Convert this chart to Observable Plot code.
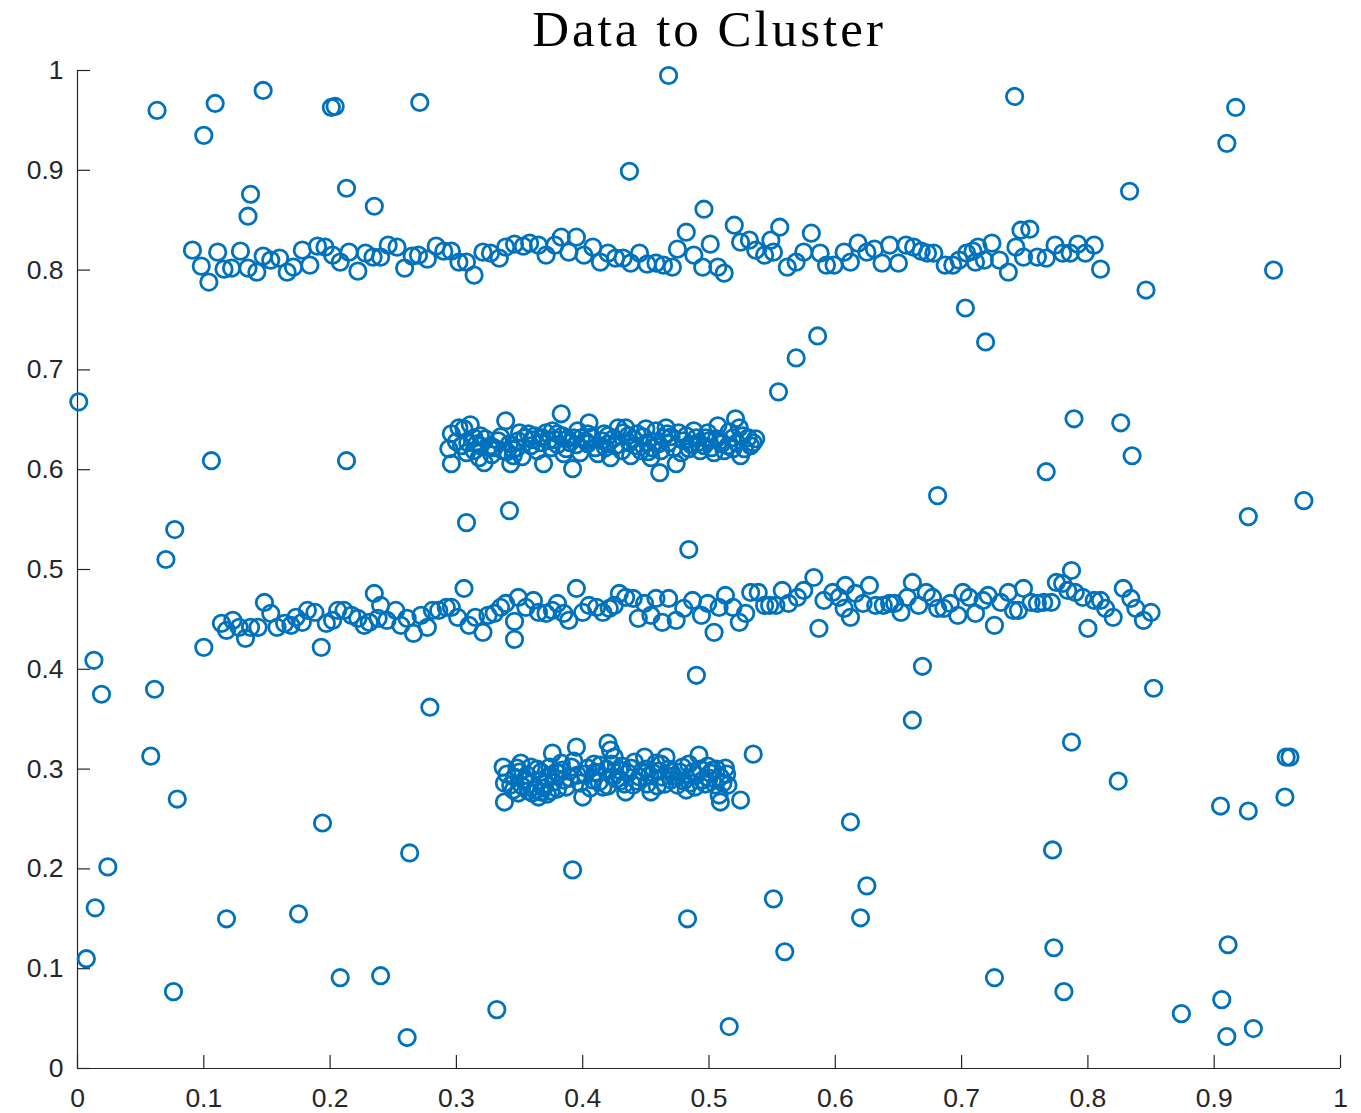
<!DOCTYPE html>
<html>
<head>
<meta charset="utf-8">
<script src="https://cdn.jsdelivr.net/npm/d3@7"></script>
<script src="https://cdn.jsdelivr.net/npm/@observablehq/plot@0.6"></script>
<style>
  html, body { margin: 0; padding: 0; background: #fff; }
  .chart-title text { letter-spacing: 3px; }
</style>
</head>
<body>
<div id="chart"></div>
<script>
// Scatter of points to be clustered: two long horizontal bands,
// two short dense blobs, and uniform background noise.

const titleText = "Data to Cluster";
const xTicks = [0, 0.1, 0.2, 0.3, 0.4, 0.5, 0.6, 0.7, 0.8, 0.9, 1];
const yTicks = [0, 0.1, 0.2, 0.3, 0.4, 0.5, 0.6, 0.7, 0.8, 0.9, 1];

// Long band near y = 0.81
const bandHigh = [
  [0.091,0.820],[0.098,0.804],[0.104,0.788],[0.111,0.818],[0.116,0.801],[0.122,0.802],[0.129,0.819],[0.135,0.802],
  [0.142,0.798],[0.147,0.814],[0.153,0.810],[0.160,0.812],[0.166,0.798],[0.171,0.803],[0.178,0.820],[0.184,0.805],
  [0.190,0.824],[0.196,0.823],[0.202,0.815],[0.208,0.808],[0.215,0.818],[0.222,0.799],[0.228,0.817],[0.234,0.813],
  [0.240,0.813],[0.246,0.825],[0.253,0.823],[0.259,0.802],[0.265,0.814],[0.270,0.815],[0.277,0.811],[0.284,0.824],
  [0.290,0.819],[0.296,0.819],[0.302,0.808],[0.308,0.808],[0.314,0.795],[0.321,0.818],[0.327,0.817],[0.334,0.812],
  [0.339,0.823],[0.346,0.826],[0.353,0.824],[0.358,0.827],[0.365,0.825],[0.371,0.815],[0.378,0.825],[0.383,0.833],
  [0.389,0.818],[0.395,0.833],[0.401,0.815],[0.408,0.823],[0.414,0.808],[0.420,0.817],[0.426,0.812],[0.432,0.812],
  [0.438,0.807],[0.445,0.817],[0.451,0.806],[0.458,0.807],[0.464,0.805],[0.471,0.803],[0.475,0.821],[0.482,0.838],
  [0.488,0.815],[0.495,0.803],[0.501,0.826],[0.507,0.803],[0.512,0.797],[0.520,0.845],[0.525,0.828],[0.532,0.830],
  [0.537,0.820],[0.544,0.815],[0.549,0.830],[0.551,0.818],[0.556,0.843],[0.562,0.803],[0.569,0.808],[0.575,0.818],
  [0.581,0.837],[0.588,0.817],[0.593,0.805],[0.599,0.805],[0.607,0.818],[0.612,0.808],[0.618,0.827],[0.625,0.818],
  [0.631,0.821],[0.637,0.807],[0.643,0.825],[0.650,0.807],[0.656,0.825],[0.662,0.823],[0.668,0.819],[0.673,0.817],
  [0.678,0.817],[0.687,0.805],[0.693,0.805],[0.698,0.810],[0.704,0.817],[0.709,0.819],[0.713,0.823],[0.711,0.808],
  [0.718,0.810],[0.724,0.827],[0.730,0.810],[0.737,0.798],[0.743,0.823],[0.747,0.840],[0.754,0.841],[0.749,0.813],
  [0.760,0.813],[0.767,0.812],[0.774,0.825],[0.780,0.817],[0.786,0.817],[0.792,0.826],[0.798,0.817],[0.805,0.825],
  [0.810,0.801]
];

// Dense blob near y = 0.63
const blobHigh = [
  [0.296,0.636],[0.294,0.621],[0.296,0.606],[0.302,0.642],[0.306,0.641],[0.311,0.645],[0.304,0.624],[0.309,0.627],
  [0.314,0.632],[0.319,0.624],[0.322,0.607],[0.318,0.612],[0.327,0.624],[0.333,0.629],[0.339,0.649],[0.337,0.619],
  [0.343,0.606],[0.345,0.614],[0.349,0.629],[0.354,0.632],[0.359,0.624],[0.362,0.634],[0.367,0.627],[0.369,0.606],
  [0.373,0.629],[0.376,0.639],[0.383,0.656],[0.380,0.636],[0.385,0.616],[0.392,0.601],[0.388,0.631],[0.393,0.632],
  [0.399,0.632],[0.404,0.636],[0.405,0.647],[0.404,0.626],[0.410,0.622],[0.417,0.636],[0.422,0.612],[0.420,0.626],
  [0.426,0.624],[0.432,0.637],[0.434,0.642],[0.437,0.627],[0.438,0.614],[0.443,0.636],[0.446,0.619],[0.450,0.641],
  [0.451,0.627],[0.454,0.612],[0.458,0.639],[0.460,0.626],[0.461,0.597],[0.464,0.632],[0.468,0.627],[0.474,0.606],
  [0.476,0.637],[0.480,0.629],[0.484,0.621],[0.488,0.639],[0.491,0.627],[0.496,0.624],[0.500,0.629],[0.504,0.617],
  [0.507,0.644],[0.509,0.629],[0.515,0.624],[0.519,0.632],[0.521,0.651],[0.524,0.642],[0.525,0.614],[0.528,0.621],
  [0.531,0.632],[0.535,0.627],[0.537,0.631],[0.519,0.621],[0.499,0.637],[0.466,0.642],[0.428,0.642],[0.396,0.639],
  [0.371,0.637],[0.350,0.637],[0.319,0.634],[0.314,0.619],[0.342,0.626],[0.330,0.622],[0.360,0.630],[0.390,0.627],
  [0.415,0.629],[0.440,0.631],[0.470,0.633],[0.490,0.632],[0.510,0.626],[0.380,0.625],[0.345,0.620],[0.420,0.634],
  [0.455,0.622],[0.300,0.628],[0.308,0.617],[0.316,0.626],[0.323,0.631],[0.328,0.615],[0.335,0.633],[0.340,0.618],
  [0.348,0.622],[0.352,0.613],[0.357,0.636],[0.364,0.619],[0.368,0.632],[0.375,0.622],[0.378,0.630],[0.384,0.634],
  [0.387,0.621],[0.395,0.625],[0.398,0.617],[0.402,0.629],[0.407,0.633],[0.412,0.616],[0.418,0.622],[0.424,0.631],
  [0.431,0.619],[0.436,0.634],[0.442,0.624],[0.448,0.633],[0.452,0.618],[0.457,0.628],[0.462,0.619],[0.467,0.636],
  [0.472,0.622],[0.478,0.617],[0.482,0.634],[0.486,0.625],[0.493,0.619],[0.497,0.632],[0.502,0.622],[0.506,0.631],
  [0.512,0.619],[0.516,0.638],[0.522,0.627],[0.527,0.634],[0.533,0.624]
];

// Long band near y = 0.46
const bandLow = [
  [0.100,0.422],[0.114,0.446],[0.118,0.439],[0.123,0.449],[0.128,0.442],[0.133,0.431],[0.137,0.442],[0.143,0.442],
  [0.148,0.467],[0.153,0.456],[0.158,0.442],[0.164,0.446],[0.169,0.444],[0.173,0.452],[0.178,0.447],[0.182,0.459],
  [0.188,0.457],[0.193,0.422],[0.197,0.446],[0.202,0.449],[0.206,0.459],[0.211,0.459],[0.217,0.454],[0.222,0.451],
  [0.227,0.444],[0.231,0.447],[0.235,0.476],[0.240,0.464],[0.238,0.451],[0.245,0.449],[0.252,0.459],[0.256,0.444],
  [0.261,0.451],[0.266,0.436],[0.272,0.454],[0.277,0.442],[0.281,0.459],[0.286,0.459],[0.292,0.462],[0.296,0.462],
  [0.301,0.452],[0.306,0.481],[0.310,0.444],[0.315,0.452],[0.321,0.437],[0.325,0.454],[0.330,0.456],[0.335,0.462],
  [0.339,0.466],[0.346,0.448],[0.346,0.430],[0.349,0.472],[0.355,0.462],[0.361,0.469],[0.365,0.457],[0.371,0.456],
  [0.376,0.459],[0.380,0.466],[0.385,0.456],[0.389,0.449],[0.395,0.481],[0.400,0.457],[0.405,0.464],[0.411,0.462],
  [0.416,0.457],[0.421,0.461],[0.425,0.464],[0.429,0.476],[0.434,0.472],[0.440,0.471],[0.444,0.451],[0.449,0.466],
  [0.454,0.454],[0.458,0.471],[0.463,0.447],[0.468,0.471],[0.474,0.449],[0.480,0.461],[0.487,0.469],[0.494,0.454],
  [0.499,0.466],[0.504,0.437],[0.508,0.462],[0.513,0.474],[0.519,0.462],[0.524,0.447],[0.529,0.456],[0.533,0.477],
  [0.539,0.477],[0.544,0.464],[0.548,0.464],[0.553,0.464],[0.558,0.479],[0.563,0.466],[0.570,0.472],[0.575,0.479],
  [0.583,0.492],[0.587,0.441],[0.591,0.469],[0.598,0.477],[0.603,0.472],[0.608,0.484],[0.607,0.461],[0.612,0.452],
  [0.616,0.476],[0.622,0.466],[0.627,0.484],[0.632,0.464],[0.638,0.464],[0.643,0.466],[0.647,0.466],[0.652,0.457],
  [0.657,0.472],[0.661,0.487],[0.666,0.464],[0.672,0.477],[0.677,0.472],[0.681,0.461],[0.686,0.461],[0.691,0.466],
  [0.697,0.454],[0.701,0.477],[0.706,0.472],[0.711,0.456],[0.717,0.469],[0.721,0.474],[0.726,0.444],[0.731,0.467],
  [0.737,0.477],[0.741,0.459],[0.745,0.459],[0.749,0.481],[0.755,0.467],[0.760,0.466],[0.765,0.467],[0.771,0.467],
  [0.775,0.487],[0.780,0.486],[0.787,0.499],[0.784,0.479],[0.790,0.477],[0.796,0.472],[0.800,0.441],[0.805,0.469],
  [0.810,0.469],[0.814,0.461],[0.820,0.452],[0.828,0.481],[0.834,0.471],[0.838,0.461],[0.844,0.449],[0.850,0.457]
];

// Dense blob near y = 0.29
const blobLow = [
  [0.337,0.302],[0.338,0.286],[0.338,0.267],[0.345,0.279],[0.346,0.292],[0.351,0.306],[0.354,0.289],[0.359,0.302],
  [0.362,0.279],[0.367,0.277],[0.367,0.297],[0.372,0.292],[0.376,0.316],[0.379,0.297],[0.383,0.306],[0.385,0.289],
  [0.391,0.302],[0.395,0.322],[0.396,0.294],[0.400,0.272],[0.404,0.301],[0.408,0.289],[0.412,0.296],[0.414,0.304],
  [0.420,0.326],[0.422,0.319],[0.425,0.312],[0.424,0.292],[0.429,0.299],[0.434,0.277],[0.436,0.296],[0.441,0.307],
  [0.445,0.292],[0.449,0.312],[0.453,0.294],[0.454,0.277],[0.458,0.306],[0.463,0.292],[0.466,0.312],[0.470,0.297],
  [0.475,0.284],[0.479,0.302],[0.482,0.279],[0.487,0.297],[0.492,0.314],[0.495,0.289],[0.499,0.303],[0.503,0.299],
  [0.505,0.284],[0.508,0.274],[0.509,0.292],[0.513,0.301],[0.515,0.284],[0.509,0.267],[0.350,0.297],[0.370,0.285],
  [0.390,0.291],[0.410,0.297],[0.430,0.288],[0.450,0.300],[0.470,0.289],[0.490,0.294],[0.500,0.291],[0.360,0.276],
  [0.372,0.275],[0.420,0.283],[0.440,0.284],[0.460,0.298],[0.485,0.286],[0.380,0.280],[0.340,0.295],[0.343,0.284],
  [0.348,0.301],[0.352,0.283],[0.356,0.294],[0.358,0.285],[0.364,0.300],[0.366,0.288],[0.369,0.281],[0.374,0.302],
  [0.377,0.287],[0.381,0.296],[0.384,0.299],[0.387,0.282],[0.393,0.308],[0.398,0.286],[0.402,0.295],[0.406,0.281],
  [0.409,0.305],[0.413,0.287],[0.416,0.282],[0.419,0.300],[0.423,0.305],[0.427,0.290],[0.431,0.303],[0.433,0.285],
  [0.438,0.301],[0.443,0.288],[0.447,0.298],[0.451,0.285],[0.456,0.296],[0.459,0.283],[0.462,0.305],[0.465,0.285],
  [0.468,0.300],[0.472,0.293],[0.477,0.297],[0.480,0.288],[0.484,0.305],[0.489,0.282],[0.493,0.300],[0.497,0.285],
  [0.501,0.296],[0.506,0.300],[0.511,0.286],[0.514,0.295],[0.349,0.276],[0.357,0.278],[0.365,0.272],[0.375,0.278]
];

// Scattered background points
const noise = [
  [0.063,0.960],[0.100,0.935],[0.109,0.967],[0.147,0.980],[0.201,0.963],[0.204,0.964],[0.271,0.968],[0.468,0.995],
  [0.742,0.974],[0.910,0.927],[0.917,0.963],[0.437,0.899],[0.137,0.876],[0.135,0.854],[0.213,0.882],[0.235,0.864],
  [0.833,0.879],[0.496,0.861],[0.846,0.780],[0.947,0.800],[0.703,0.762],[0.719,0.728],[0.586,0.734],[0.569,0.712],
  [0.555,0.678],[0.001,0.668],[0.826,0.647],[0.789,0.651],[0.835,0.614],[0.106,0.609],[0.213,0.609],[0.767,0.598],
  [0.681,0.574],[0.077,0.540],[0.070,0.510],[0.308,0.547],[0.342,0.559],[0.484,0.520],[0.971,0.569],[0.927,0.553],
  [0.013,0.409],[0.019,0.375],[0.061,0.380],[0.279,0.362],[0.490,0.394],[0.669,0.403],[0.661,0.349],[0.852,0.381],
  [0.787,0.327],[0.824,0.288],[0.957,0.312],[0.960,0.312],[0.956,0.272],[0.905,0.263],[0.927,0.258],[0.058,0.313],
  [0.079,0.270],[0.194,0.246],[0.024,0.202],[0.263,0.216],[0.392,0.199],[0.535,0.315],[0.525,0.269],[0.612,0.247],
  [0.772,0.219],[0.625,0.183],[0.620,0.151],[0.551,0.170],[0.483,0.150],[0.118,0.150],[0.175,0.155],[0.014,0.161],
  [0.007,0.110],[0.560,0.117],[0.773,0.121],[0.911,0.124],[0.208,0.091],[0.240,0.093],[0.726,0.091],[0.076,0.077],
  [0.781,0.077],[0.332,0.059],[0.874,0.055],[0.906,0.069],[0.931,0.040],[0.910,0.032],[0.516,0.042],[0.261,0.031]
];

const points = [...bandHigh, ...blobHigh, ...bandLow, ...blobLow, ...noise]
  .map(([x, y]) => ({x, y}));

const W = 1361, H = 1113;
const mL = 77, mR = 21, mT = 70, mB = 45;
const plotW = W - mL - mR, plotH = H - mT - mB;
const axisColor = "#262626";
const fmt = d3.format("~g");
const tickLen = 13;

const chart = Plot.plot({
  width: W,
  height: H,
  marginLeft: mL,
  marginRight: mR,
  marginTop: mT,
  marginBottom: mB,
  style: {fontFamily: "'Liberation Sans', Arial, sans-serif", background: "#fff", overflow: "visible"},
  x: {domain: [0, 1], axis: null},
  y: {domain: [0, 1], axis: null},
  marks: [
    Plot.ruleX([0], {stroke: axisColor, strokeWidth: 1.2}),
    Plot.ruleY([0], {stroke: axisColor, strokeWidth: 1.2}),
    // inward tick marks
    Plot.tickY(yTicks, {y: d => d, insetRight: plotW - tickLen, stroke: axisColor, strokeWidth: 1.2}),
    Plot.tickX(xTicks, {x: d => d, insetTop: plotH - tickLen, stroke: axisColor, strokeWidth: 1.2}),
    // tick labels
    Plot.text(yTicks, {y: d => d, text: d => fmt(d), frameAnchor: "left", textAnchor: "end", dx: -14, fontSize: 26.5, fill: axisColor}),
    Plot.text(xTicks, {x: d => d, text: d => fmt(d), frameAnchor: "bottom", lineAnchor: "top", dy: 20, fontSize: 26.5, fill: axisColor}),
    // data
    Plot.dot(points, {x: "x", y: "y", r: 8.2, stroke: "#0072BD", strokeWidth: 2.8, fill: "none"}),
    // title
    Plot.text([titleText], {text: d => d, frameAnchor: "top", lineAnchor: "bottom", dy: -25, fontSize: 51, fontFamily: "'Liberation Serif', serif", fill: "#000", className: "chart-title"})
  ]
});

document.getElementById("chart").appendChild(chart);
</script>
</body>
</html>
